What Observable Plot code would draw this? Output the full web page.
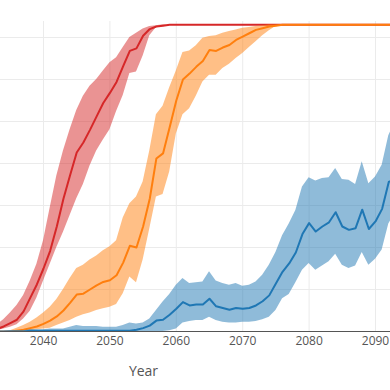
<!DOCTYPE html>
<html>
<head>
<meta charset="utf-8">
<script src="https://cdn.jsdelivr.net/npm/d3@7"></script>
<script src="https://cdn.jsdelivr.net/npm/@observablehq/plot@0.6"></script>
<style>
  html, body { margin: 0; padding: 0; background: #fff; }
  #chart { width: 390px; height: 390px; overflow: hidden; }
</style>
</head>
<body>
<div id="chart"></div>
<script>
const years = [2033,2034,2035,2036,2037,2038,2039,2040,2041,2042,2043,2044,2045,2046,2047,2048,2049,2050,2051,2052,2053,2054,2055,2056,2057,2058,2059,2060,2061,2062,2063,2064,2065,2066,2067,2068,2069,2070,2071,2072,2073,2074,2075,2076,2077,2078,2079,2080,2081,2082,2083,2084,2085,2086,2087,2088,2089,2090,2091,2092,2093];

const xTicks = [2040, 2050, 2060, 2070, 2080, 2090];
const yGrid = [50, 100, 150, 200, 250, 300, 350];

// Red series
const redMean = [3,6,10,14,24,40,56,75,96,125,158,186,213,225,240,256,272,284,297,316,334,337,352,360,363,364,365,365,365,365,365,365,365,365,365,365,365,365,365,365,365,365,365,365,365,365,365,365,365,365,365,365,365,365,365,365,365,365,365,365,365];
const redHigh = [8,14,22,31,43,60,80,108,147,185,215,240,263,280,292,300,310,320,326,338,350,355,360,363,364,365,365,365,365,365,365,365,365,365,365,365,365,365,365,365,365,365,365,365,365,365,365,365,365,365,365,365,365,365,365,365,365,365,365,365,365];
const redLow = [1,3,5,8,15,24,40,60,80,100,118,138,158,175,197,215,228,240,262,281,307,309,328,352,362,364,365,365,365,365,365,365,365,365,365,365,365,365,365,365,365,365,365,365,365,365,365,365,365,365,365,365,365,365,365,365,365,365,365,365,365];

// Orange series
const orangeMean = [0,0,0,1,2,4,6,9,13,18,25,34,44,45,50,55,59,61,67,82,102,100,125,158,206,212,243,275,300,307,315,322,335,334,338,341,347,351,355,359,361,363,364,365,365,365,365,365,365,365,365,365,365,365,365,365,365,365,365,365,365];
const orangeHigh = [0,0,1,4,7,11,16,22,29,38,50,63,75,79,85,90,96,101,108,135,152,160,178,215,258,268,290,310,332,334,340,349,351,352,355,357,359,361,362,363,364,365,365,365,365,365,365,365,365,365,365,365,365,365,365,365,365,365,365,365,365];
const orangeLow = [0,0,0,0,0,1,2,3,4,7,10,13,17,20,22,25,27,29,32,45,65,58,85,122,160,163,190,235,258,265,280,297,305,305,313,318,325,331,338,345,352,358,363,365,365,365,365,365,365,365,365,365,365,365,365,365,365,365,365,365,365];

// Blue series
const blueMean = [0,0,0,0,0,1,1,1,1,1,1,1,1,1,1,1,1,1,1,1,1,2,4,7,13,14,20,27,35,31,32,32,39,30,28,26,28,27,28,31,36,43,57,71,81,94,116,129,119,125,130,142,125,121,123,145,122,131,146,178,182];
const blueHigh = [0,0,1,1,1,2,2,2,3,3,3,5,7,6,6,6,5,5,5,7,10,9,10,15,25,35,44,55,63,57,58,59,71,60,57,55,57,54,55,59,67,79,94,114,128,144,172,183,179,182,183,194,181,180,175,202,176,184,198,233,250];
const blueLow = [0,0,0,0,0,0,0,0,0,0,0,0,0,0,0,0,0,0,0,0,0,0,0,0,0,0,1,3,10,12,13,13,17,13,11,10,10,11,11,12,14,17,25,39,44,58,73,81,73,78,83,92,79,75,78,94,79,86,97,128,142];

const seriesNames = ["red", "orange", "blue"];
const seriesColors = ["#d62728", "#ff7f0e", "#1f77b4"];
const seriesMeans = [redMean, orangeMean, blueMean];
const seriesHighs = [redHigh, orangeHigh, blueHigh];
const seriesLows = [redLow, orangeLow, blueLow];

const marks = [
  Plot.gridX(xTicks, {stroke: "#ebebeb", strokeOpacity: 1}),
  Plot.gridY(yGrid, {stroke: "#ebebeb", strokeOpacity: 1})
];

seriesNames.forEach((name, k) => {
  const rows = years.map((year, i) => ({
    year, mean: seriesMeans[k][i], lo: seriesLows[k][i], hi: seriesHighs[k][i]
  }));
  marks.push(Plot.areaY(rows, {x: "year", y1: "lo", y2: "hi", fill: seriesColors[k], fillOpacity: 0.5, clip: true}));
  marks.push(Plot.lineY(rows, {x: "year", y: "mean", stroke: seriesColors[k], strokeWidth: 2, clip: true}));
});

marks.push(Plot.ruleY([0], {stroke: "#555", strokeWidth: 1}));
marks.push(Plot.axisX(xTicks, {tickSize: 0, tickPadding: 5, fontSize: 12, fill: "#555", label: null, tickFormat: d => String(d)}));
marks.push(Plot.text(["Year"], {frameAnchor: "bottom", dx: -52, dy: 44, fontSize: 14, fill: "#555"}));

const chart = Plot.plot({
  width: 390,
  height: 390,
  marginTop: 21,
  marginBottom: 59,
  marginLeft: 0,
  marginRight: 0,
  x: {domain: [2033.52, 2092.26]},
  y: {domain: [0, 369], axis: null},
  style: {fontFamily: "'Open Sans', sans-serif", background: "#fff"},
  marks
});
document.getElementById("chart").appendChild(chart);
</script>
</body>
</html>
